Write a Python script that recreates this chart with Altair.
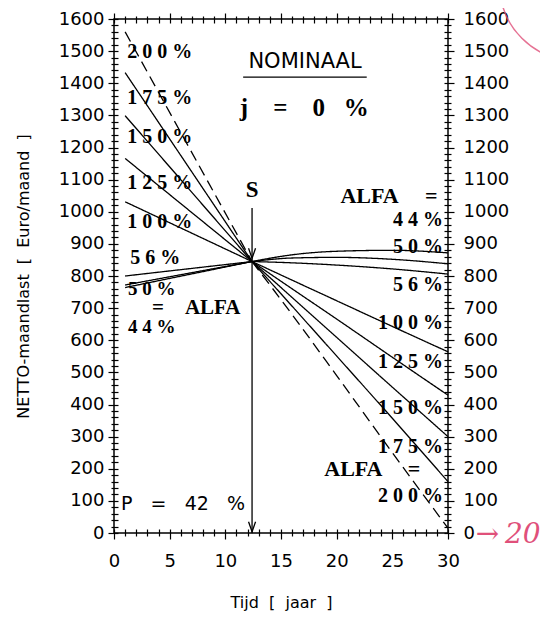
import altair as alt
import pandas as pd

NB = "\u00a0"

# ---------------- data ----------------
ALFA = ["44%", "50%", "56%", "100%", "125%", "150%", "175%", "200%"]
S_X = 12.4
S_Y = 845
LEFT_X = [1.0, 12.4]
LEFT_START = [764, 772, 800, 1031, 1166, 1299, 1433, 1560]
RIGHT_X = [12.4, 16, 20, 25, 30]
RIGHT_44 = [845, 866, 877, 880, 872]
RIGHT_50 = [845, 856, 858, 852, 838]
RIGHT_56 = [845, 841, 834, 822, 806]
RIGHT_100 = [845, 787, 723, 643, 564]
RIGHT_125 = [845, 760, 666, 547, 429]
RIGHT_150 = [845, 733, 609, 454, 300]
RIGHT_175 = [845, 706, 551, 357, 160]
RIGHT_200 = [845, 680, 490, 250, 15]
RIGHT_VALUES = [RIGHT_44, RIGHT_50, RIGHT_56, RIGHT_100, RIGHT_125,
                RIGHT_150, RIGHT_175, RIGHT_200]

LEFT_LABEL_TEXT = ["2 0 0 %", "1 7 5 %", "1 5 0 %", "1 2 5 %", "1 0 0 %", "5 6 %", "5 0 %", "4 4 %"]
LEFT_LABEL_X = [1.2, 1.2, 1.2, 1.2, 1.2, 1.45, 1.25, 1.25]
LEFT_LABEL_Y = [1497, 1354, 1233, 1089, 968, 856, 760, 641]
LEFT_LABEL_SIZE = [20, 20, 20, 20, 20, 20, 19, 19]

LEFT_WORD_TEXT = [f"={NB * 4}ALFA"]
LEFT_WORD_X = [3.41]
LEFT_WORD_Y = [700]

RIGHT_LABEL_TEXT = ["4 4 %", "5 0 %", "5 6 %", "1 0 0 %", "1 2 5 %", "1 5 0 %", "1 7 5 %", "2 0 0 %"]
RIGHT_LABEL_X = [29.55] * 8
RIGHT_LABEL_Y = [974, 890, 772, 654, 532, 389, 268, 116]

WORD_TEXT = ["ALFA", "=", "ALFA", "="]
WORD_X = [22.95, 28.5, 21.5, 26.95]
WORD_Y = [1048, 1048, 199, 199]

S_LABEL_Y = 1067
ARROW_TOP = 1012
ARROW_TIPS_Y = [855, 4]

NOMINAAL_X = 17.16
NOMINAAL_Y = 1466
UNDERLINE_X = [11.6, 22.7]
UNDERLINE_Y = 1419
J_X = 11.3
J_Y = 1323
P_X = 0.63
P_Y = 90

X_TICKS = list(range(0, 31))
Y_TICKS = list(range(0, 1601, 20))

# ---------------- build tables ----------------
rows = []
for i, a in enumerate(ALFA):
    dash = "dashed" if a == "200%" else "solid"
    for x, y in zip(LEFT_X, [LEFT_START[i], S_Y]):
        rows.append({"alfa": a, "key": a + "_L", "x": x, "y": y, "dash": dash})
    for x, y in zip(RIGHT_X, RIGHT_VALUES[i]):
        rows.append({"alfa": a, "key": a + "_R", "x": x, "y": y, "dash": dash})
df = pd.DataFrame(rows)

xs = alt.Scale(domain=[0, 30], nice=False, zero=False)
ys = alt.Scale(domain=[0, 1600], nice=False, zero=False)

AXIS_FONT = "DejaVu Sans"
SERIF = "Liberation Serif"

x_tick_size = {"condition": {"test": "datum.value % 5 === 0", "value": 10}, "value": 7}
y_tick_size = {"condition": {"test": "datum.value % 100 === 0", "value": 10}, "value": 7}

common = dict(domain=False, grid=False, tickColor="black", tickWidth=1.2,
              labelFont=AXIS_FONT, labelFontSize=18, labelColor="black",
              labelOverlap=False, labelFlush=False, offset=-4, format="d",
              titleFont=AXIS_FONT, titleFontSize=16, titleFontWeight="normal",
              titleColor="black")

x_bottom = alt.Axis(values=X_TICKS, tickSize=x_tick_size,
                    labelExpr="datum.value % 5 === 0 ? datum.label : ''",
                    labelPadding=13, title=f"Tijd{NB}{NB}[{NB}{NB}jaar{NB}{NB}]", titlePadding=24,
                    orient="bottom", **common)
x_top = alt.Axis(values=X_TICKS, tickSize=x_tick_size, labels=False, title=None,
                 orient="top", **common)
y_left = alt.Axis(values=Y_TICKS, tickSize=y_tick_size,
                  labelExpr="datum.value % 100 === 0 ? datum.label : ''",
                  labelPadding=4,
                  title=f"NETTO-maandlast{NB}{NB}[{NB}{NB}Euro/maand{NB}{NB}]",
                  titlePadding=27, orient="left", **common)
y_right = alt.Axis(values=Y_TICKS, tickSize=y_tick_size,
                   labelExpr="datum.value % 100 === 0 ? datum.label : ''",
                   labelPadding=9, title=None, orient="right", **common)

lines = alt.Chart(df).mark_line(color="black", strokeWidth=1.3, interpolate="monotone").encode(
    x=alt.X("x:Q", scale=xs, axis=x_bottom),
    y=alt.Y("y:Q", scale=ys, axis=y_left),
    detail="key:N",
    strokeDash=alt.StrokeDash("dash:N", scale=alt.Scale(domain=["solid", "dashed"],
                                                          range=[[1, 0], [11, 6]]), legend=None),
)

frame_axes = alt.Chart(df).mark_point(opacity=0).encode(
    x=alt.X("x:Q", scale=xs, axis=x_top),
    y=alt.Y("y:Q", scale=ys, axis=y_right),
)


def text_layer(texts, xv, yv, align, font, size, weight="bold", color="black", style="normal"):
    d = pd.DataFrame({"t": texts, "x": xv, "y": yv})
    return alt.Chart(d).mark_text(align=align, baseline="middle", font=font, fontSize=size,
                                  fontWeight=weight, color=color, fontStyle=style).encode(
        x=alt.X("x:Q", scale=xs, axis=None),
        y=alt.Y("y:Q", scale=ys, axis=None),
        text="t:N",
    )


left_df = pd.DataFrame({"t": LEFT_LABEL_TEXT, "x": LEFT_LABEL_X, "y": LEFT_LABEL_Y, "s": LEFT_LABEL_SIZE})
left_labels = alt.Chart(left_df).mark_text(align="left", baseline="middle", font=SERIF,
                                           fontWeight="bold", color="black").encode(
    x=alt.X("x:Q", scale=xs, axis=None),
    y=alt.Y("y:Q", scale=ys, axis=None),
    text="t:N",
    size=alt.Size("s:Q", scale=None, legend=None),
)
left_words = text_layer(LEFT_WORD_TEXT, LEFT_WORD_X, LEFT_WORD_Y, "left", SERIF, 21)
right_labels = text_layer(RIGHT_LABEL_TEXT, RIGHT_LABEL_X, RIGHT_LABEL_Y, "right", SERIF, 20)
words = text_layer(WORD_TEXT, WORD_X, WORD_Y, "center", SERIF, 22)
s_label = text_layer(["S"], [S_X], [S_LABEL_Y], "center", SERIF, 23)
nominaal = text_layer(["NOMINAAL"], [NOMINAAL_X], [NOMINAAL_Y], "center", AXIS_FONT, 21, weight="normal")
j_label = text_layer([f"j{NB*4}={NB*4}0{NB*3}%"], [J_X], [J_Y], "left", SERIF, 25)
p_label = text_layer([f"P{NB*3}={NB*3}42{NB*3}%"], [P_X], [P_Y], "left", AXIS_FONT, 19, weight="normal")
red_note = text_layer(["\u2192\u200920"], [32.5], [-6], "left", "DejaVu Serif", 28, weight="normal",
                      color="#e0507a", style="italic")

underline = alt.Chart(pd.DataFrame({"x": [UNDERLINE_X[0]], "x2": [UNDERLINE_X[1]], "y": [UNDERLINE_Y]})).mark_rule(
    color="black", strokeWidth=1.2).encode(
    x=alt.X("x:Q", scale=xs, axis=None), x2="x2:Q",
    y=alt.Y("y:Q", scale=ys, axis=None))

arrow_line = alt.Chart(pd.DataFrame({"x": [S_X], "y": [ARROW_TOP], "y2": [0]})).mark_rule(
    color="black", strokeWidth=1.3).encode(
    x=alt.X("x:Q", scale=xs, axis=None),
    y=alt.Y("y:Q", scale=ys, axis=None), y2="y2:Q")

arrow_heads = alt.Chart(pd.DataFrame({"x": [S_X, S_X], "y": ARROW_TIPS_Y})).mark_point(
    shape="M -0.35 -1 L 0 0 L 0.35 -1", size=400, filled=False, color="black",
    strokeWidth=1.3, opacity=1).encode(
    x=alt.X("x:Q", scale=xs, axis=None),
    y=alt.Y("y:Q", scale=ys, axis=None))

red_circle = alt.Chart(pd.DataFrame({"x": [41.4], "y": [1705]})).mark_point(
    shape="circle", size=22500, filled=False, color="#e0507a", strokeWidth=1.5, opacity=0.8).encode(
    x=alt.X("x:Q", scale=xs, axis=None),
    y=alt.Y("y:Q", scale=ys, axis=None))

chart = alt.layer(
    lines, frame_axes, underline, arrow_line, arrow_heads,
    left_labels, left_words, right_labels, words, s_label, nominaal, j_label, p_label,
    red_note, red_circle,
).resolve_axis(x="independent", y="independent").properties(
    width=334, height=514,
    autosize=alt.AutoSizeParams(type="none"),
    padding={"left": 106, "top": 11, "right": 92, "bottom": 80},
    background="white",
).configure_view(stroke="black", strokeWidth=1.5)

chart.save("out.html", embed_options={"renderer": "svg", "actions": False})
